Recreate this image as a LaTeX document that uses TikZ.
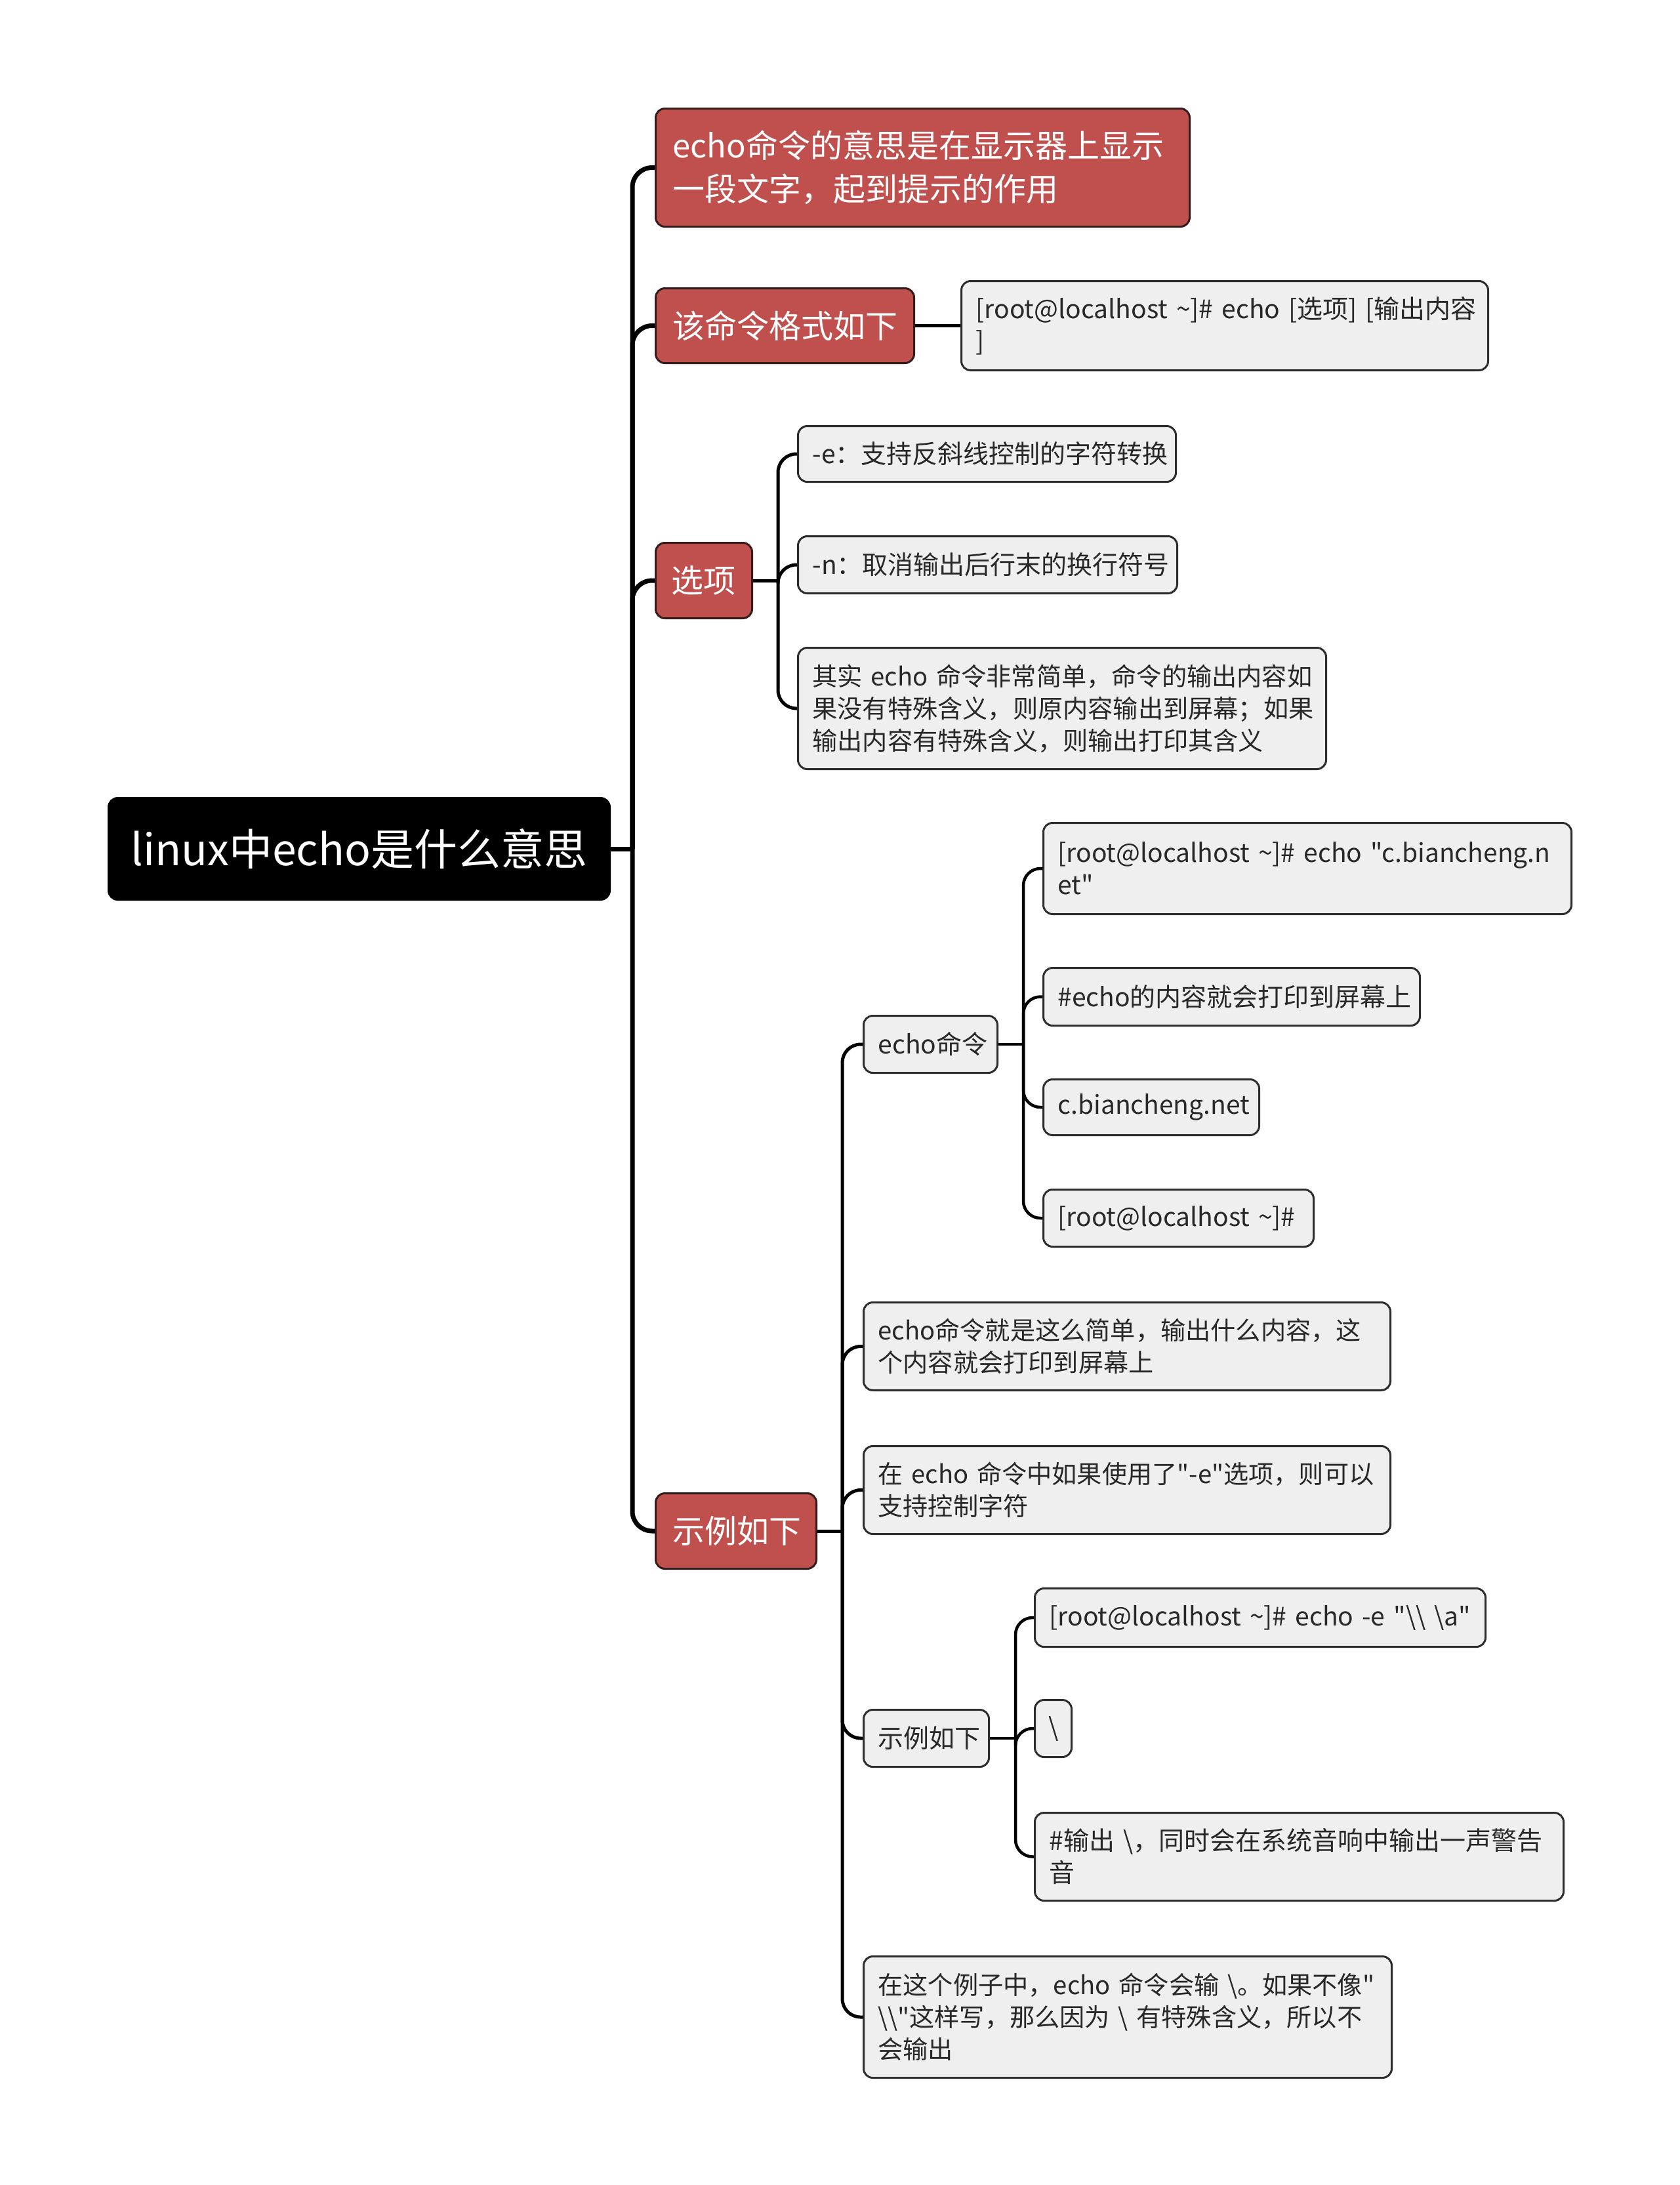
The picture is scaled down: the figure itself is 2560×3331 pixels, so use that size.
\documentclass[tikz,border=0pt]{standalone}
\usepackage{fontspec}
\usetikzlibrary{calc}
\newfontfamily\cjk{Noto Sans CJK SC}
\definecolor{nodered}{RGB}{192,80,77}
\definecolor{reddark}{RGB}{50,28,28}
\definecolor{nodegray}{RGB}{239,239,239}
\definecolor{graydark}{RGB}{45,45,45}
\definecolor{textgray}{RGB}{40,40,40}
\newcommand\oneline[1]{\mbox{#1}}
\begin{document}
\begin{tikzpicture}[x=1pt,y=-1pt,
  base/.style={rounded corners=14pt, line width=3pt, anchor=north west, align=left, inner ysep=0pt},
  rootbox/.style={base, fill=black, draw=black, text=white, font=\cjk\fontsize{66}{80}\selectfont, align=center, inner xsep=0pt},
  redbox/.style={base, fill=nodered, draw=reddark, text=white, font=\cjk\fontsize{49}{66}\selectfont, inner xsep=26pt},
  graybox/.style={base, fill=nodegray, draw=graydark, text=textgray, font=\cjk\fontsize{39}{49}\selectfont, inner xsep=22pt},
  spaced/.style={font=\cjk\fontsize{38.2}{49}\selectfont},
  linkA/.style={draw=black, line width=7pt, rounded corners=30pt},
  linkB/.style={draw=black, line width=5pt, rounded corners=28pt},
  linkC/.style={draw=black, line width=4.5pt, rounded corners=26pt},
]
\useasboundingbox (0,0) rectangle (2560,3331);

% root
\node[rootbox, minimum width=764pt, minimum height=155pt] (root) at (164,1215) {linux中echo是什么意思};

% level 1 (width = text width + 52)
\node[redbox, text width=762pt, minimum height=180pt] (n1) at (998,164) {\oneline{echo命令的意思是在显示器上显示}\\\oneline{一段文字，起到提示的作用}};
\node[redbox, text width=342pt, minimum height=114pt] (n2) at (998,438) {\oneline{该命令格式如下}};
\node[redbox, text width=99pt, inner xsep=24pt, minimum height=115pt] (n3) at (998,826) {\oneline{选项}};
\node[redbox, text width=193pt, minimum height=115pt] (n4) at (998,2275) {\oneline{示例如下}};

% level 2 (width = text width + 44)
\node[graybox, text width=759pt, minimum height=136pt] (n2a) at (1464,427) {\oneline{[root@localhost \textasciitilde]\# echo [选项] [输出内容}\\\oneline{]}};
\node[graybox, text width=532pt, minimum height=85pt] (o1) at (1215,648) {\oneline{-e：支持反斜线控制的字符转换}};
\node[graybox, text width=534pt, minimum height=87pt] (o2) at (1215,816) {\oneline{-n：取消输出后行末的换行符号}};
\node[graybox, spaced, text width=761pt, minimum height=185pt] (o3) at (1215,986) {\oneline{其实 echo 命令非常简单，命令的输出内容如}\\\oneline{果没有特殊含义，则原内容输出到屏幕；如果}\\\oneline{输出内容有特殊含义，则输出打印其含义}};

\node[graybox, text width=160pt, minimum height=87pt] (e1) at (1315,1547) {\oneline{echo命令}};
\node[graybox, spaced, text width=759pt, minimum height=134pt] (e2) at (1315,1984) {\oneline{echo命令就是这么简单，输出什么内容，这}\\\oneline{个内容就会打印到屏幕上}};
\node[graybox, spaced, text width=759pt, minimum height=134pt] (e3) at (1315,2203) {\oneline{在 echo 命令中如果使用了"-e"选项，则可以}\\\oneline{支持控制字符}};
\node[graybox, text width=147pt, minimum height=87pt] (e4) at (1315,2605) {\oneline{示例如下}};
\node[graybox, spaced, text width=761pt, minimum height=185pt] (e5) at (1315,2981) {\oneline{在这个例子中，echo 命令会输 \textbackslash。如果不像"}\\\oneline{\textbackslash\textbackslash"这样写，那么因为 \textbackslash{} 有特殊含义，所以不}\\\oneline{会输出}};

% level 3
\node[graybox, text width=761pt, minimum height=139pt] (f1) at (1589,1253) {\oneline{[root@localhost \textasciitilde]\# echo "c.biancheng.n}\\\oneline{et"}};
\node[graybox, text width=530pt, minimum height=88pt] (f2) at (1589,1474) {\oneline{\#echo的内容就会打印到屏幕上}};
\node[graybox, text width=285pt, minimum height=85pt] (f3) at (1589,1644) {\oneline{c.biancheng.net}};
\node[graybox, text width=368pt, minimum height=87pt] (f4) at (1589,1812) {\oneline{[root@localhost \textasciitilde]\#}};

\node[graybox, text width=643pt, minimum height=89pt] (g1) at (1576,2420) {\oneline{[root@localhost \textasciitilde]\# echo -e "\textbackslash\textbackslash{} \textbackslash a"}};
\node[graybox, text width=14pt, inner xsep=21pt, minimum height=87pt] (g2) at (1576,2590) {\oneline{\textbackslash}};
\node[graybox, text width=762pt, minimum height=134pt] (g3) at (1576,2762) {\oneline{\#输出 \textbackslash，同时会在系统音响中输出一声警告}\\\oneline{音}};

% junctions
\coordinate (j0) at ($(root.east)+(33,0)$);
\coordinate (j3) at ($(n3.east)+(38,0)$);
\coordinate (j4) at ($(n4.east)+(38,0)$);
\coordinate (je1) at ($(e1.east)+(38,0)$);
\coordinate (je4) at ($(e4.east)+(39,0)$);

% connectors
\draw[linkA] (root.east) -- (j0);
\foreach \c in {n1,n2,n3,n4} \draw[linkA] (j0) |- (\c.west);

\draw[linkB] (n2.east) -- (n2a.west);
\draw[linkB] (n3.east) -- (j3);
\foreach \c in {o1,o2,o3} \draw[linkB] (j3) |- (\c.west);
\draw[linkB] (n4.east) -- (j4);
\foreach \c in {e1,e2,e3,e4,e5} \draw[linkB] (j4) |- (\c.west);

\draw[linkC] (e1.east) -- (je1);
\foreach \c in {f1,f2,f3,f4} \draw[linkC] (je1) |- (\c.west);
\draw[linkC] (e4.east) -- (je4);
\foreach \c in {g1,g2,g3} \draw[linkC] (je4) |- (\c.west);
\end{tikzpicture}
\end{document}
